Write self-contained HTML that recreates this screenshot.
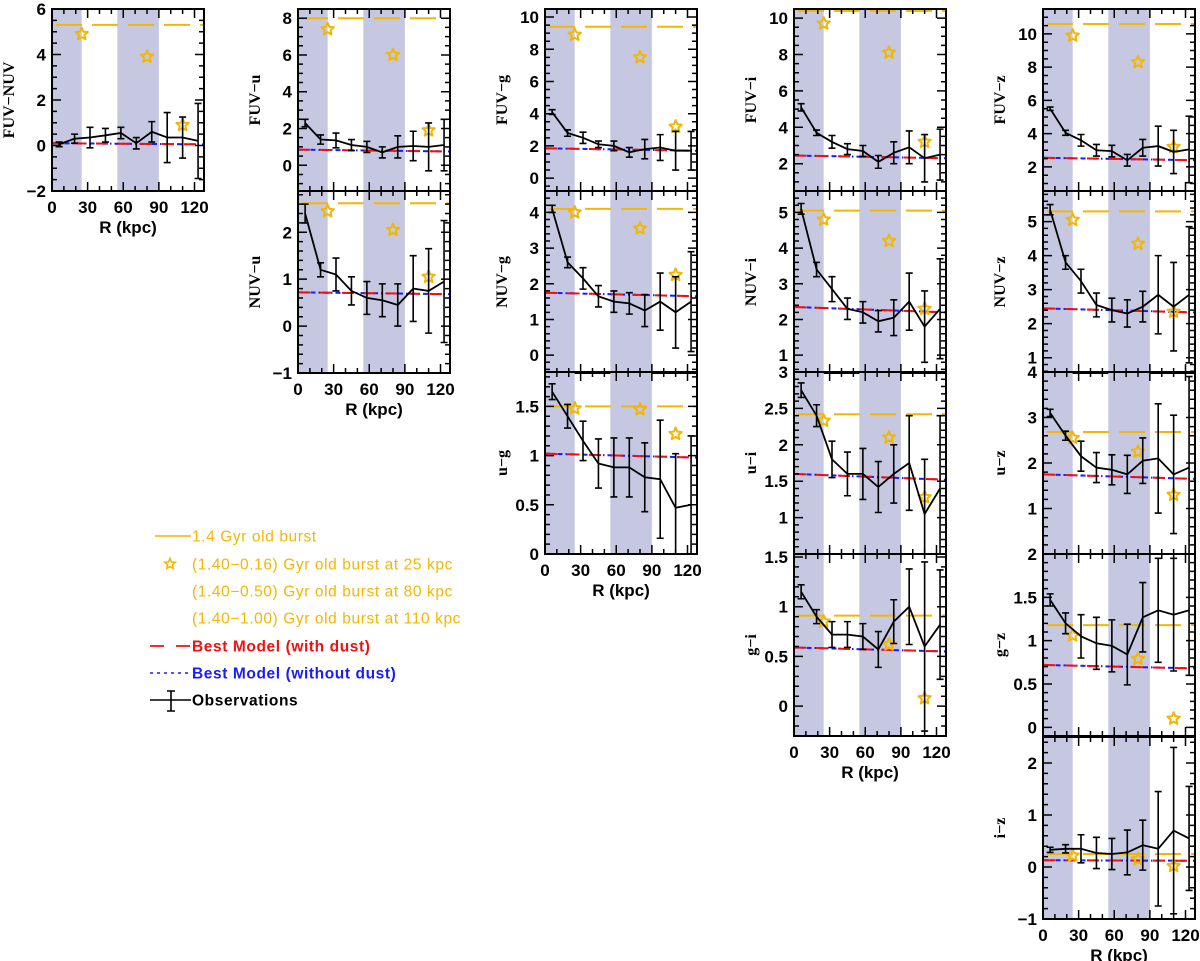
<!DOCTYPE html>
<html><head><meta charset="utf-8">
<style>
html,body{margin:0;padding:0;background:#fff;}
svg{display:block;font-family:"Liberation Sans",sans-serif;}
</style></head>
<body>
<svg id="fig" width="1200" height="961" viewBox="0 0 1200 961" xmlns="http://www.w3.org/2000/svg"></svg>
<script>
// ---- data ----
const radii = [6, 19, 32, 45, 58, 71, 84, 97, 110, 123];
const starRadii = [25, 80, 110];
const bandsStart = [0, 55];
const bandsEnd = [25, 90];

const fuvNuvObs = [0.05, 0.3, 0.35, 0.45, 0.55, 0.1, 0.6, 0.35, 0.35, 0.2];
const fuvNuvErr = [0.1, 0.2, 0.45, 0.3, 0.25, 0.25, 0.45, 1.1, 0.9, 1.65];
const fuvNuvStars = [4.9, 3.9, 0.9];
const fuvNuvBurst = 5.3;
const fuvNuvModel = [0.1, 0.05];

const fuvUObs = [2.3, 1.4, 1.35, 1.1, 1.0, 0.7, 1.0, 1.05, 1.0, 1.1];
const fuvUErr = [0.2, 0.25, 0.4, 0.3, 0.3, 0.3, 0.6, 0.8, 1.3, 1.4];
const fuvUStars = [7.4, 6.0, 1.9];
const fuvUBurst = 8.0;
const fuvUModel = [0.85, 0.75];

const nuvUObs = [2.4, 1.2, 1.1, 0.75, 0.6, 0.55, 0.45, 0.8, 0.75, 0.95];
const nuvUErr = [0.2, 0.15, 0.35, 0.3, 0.35, 0.35, 0.45, 0.7, 0.9, 1.3];
const nuvUStars = [2.45, 2.05, 1.05];
const nuvUBurst = 2.62;
const nuvUModel = [0.72, 0.68];

const fuvGObs = [4.1, 2.8, 2.5, 2.1, 2.0, 1.6, 1.8, 1.9, 1.7, 1.7];
const fuvGErr = [0.15, 0.2, 0.35, 0.2, 0.3, 0.3, 0.6, 0.8, 1.2, 1.2];
const fuvGStars = [8.9, 7.5, 3.2];
const fuvGBurst = 9.4;
const fuvGModel = [1.85, 1.7];

const nuvGObs = [4.1, 2.6, 2.15, 1.65, 1.5, 1.45, 1.25, 1.5, 1.2, 1.5];
const nuvGErr = [0.1, 0.15, 0.3, 0.3, 0.3, 0.3, 0.45, 0.8, 1.0, 1.4];
const nuvGStars = [4.0, 3.55, 2.25];
const nuvGBurst = 4.1;
const nuvGModel = [1.75, 1.65];

const uGObs = [1.65, 1.4, 1.15, 0.92, 0.88, 0.88, 0.78, 0.76, 0.47, 0.5];
const uGErr = [0.08, 0.12, 0.2, 0.25, 0.3, 0.3, 0.35, 0.6, 0.55, 0.7];
const uGStars = [1.48, 1.47, 1.22];
const uGBurst = 1.5;
const uGModel = [1.02, 0.98];

const fuvIObs = [5.1, 3.7, 3.2, 2.8, 2.7, 2.1, 2.6, 2.9, 2.3, 2.5];
const fuvIErr = [0.2, 0.15, 0.35, 0.3, 0.3, 0.35, 0.6, 0.9, 1.3, 1.4];
const fuvIStars = [9.7, 8.1, 3.2];
const fuvIBurst = 10.4;
const fuvIModel = [2.45, 2.3];

const nuvIObs = [5.1, 3.4, 2.85, 2.3, 2.2, 1.95, 2.05, 2.5, 1.8, 2.3];
const nuvIErr = [0.15, 0.2, 0.35, 0.3, 0.3, 0.3, 0.5, 0.8, 1.0, 1.4];
const nuvIStars = [4.8, 4.2, 2.3];
const nuvIBurst = 5.05;
const nuvIModel = [2.35, 2.2];

const uIObs = [2.75, 2.4, 1.8, 1.6, 1.6, 1.42, 1.6, 1.75, 1.05, 1.4];
const uIErr = [0.1, 0.15, 0.25, 0.3, 0.35, 0.35, 0.4, 0.65, 0.75, 1.0];
const uIStars = [2.33, 2.1, 1.28];
const uIBurst = 2.42;
const uIModel = [1.6, 1.52];

const gIObs = [1.15, 0.9, 0.72, 0.72, 0.70, 0.57, 0.85, 1.0, 0.6, 0.82];
const gIErr = [0.07, 0.07, 0.13, 0.13, 0.13, 0.18, 0.22, 0.38, 0.85, 0.55];
const gIStars = [0.85, 0.62, 0.08];
const gIBurst = 0.91;
const gIModel = [0.59, 0.55];

const fuvZObs = [5.5, 4.05, 3.6, 3.0, 2.95, 2.4, 3.15, 3.25, 2.9, 3.05];
const fuvZErr = [0.1, 0.15, 0.35, 0.35, 0.35, 0.35, 0.5, 1.2, 1.3, 2.0];
const fuvZStars = [9.9, 8.3, 3.2];
const fuvZBurst = 10.6;
const fuvZModel = [2.55, 2.4];

const nuvZObs = [5.35, 3.8, 3.25, 2.55, 2.4, 2.3, 2.5, 2.85, 2.5, 2.85];
const nuvZErr = [0.15, 0.2, 0.35, 0.35, 0.35, 0.4, 0.45, 1.15, 1.3, 2.0];
const nuvZStars = [5.05, 4.35, 2.35];
const nuvZBurst = 5.3;
const nuvZModel = [2.45, 2.33];

const uZObs = [3.1, 2.6, 2.15, 1.9, 1.85, 1.75, 2.05, 2.1, 1.75, 1.9];
const uZErr = [0.08, 0.1, 0.33, 0.33, 0.33, 0.42, 0.5, 1.2, 1.3, 2.0];
const uZStars = [2.55, 2.25, 1.3];
const uZBurst = 2.68;
const uZModel = [1.75, 1.65];

const gZObs = [1.47, 1.2, 1.05, 0.97, 0.94, 0.84, 1.27, 1.35, 1.3, 1.35];
const gZErr = [0.07, 0.12, 0.25, 0.3, 0.3, 0.35, 0.4, 0.6, 0.65, 0.75];
const gZStars = [1.06, 0.79, 0.1];
const gZBurst = 1.18;
const gZModel = [0.72, 0.68];

const iZObs = [0.33, 0.35, 0.35, 0.27, 0.25, 0.28, 0.42, 0.35, 0.7, 0.55];
const iZErr = [0.05, 0.08, 0.27, 0.3, 0.3, 0.43, 0.48, 1.1, 1.6, 1.0];
const iZStars = [0.22, 0.15, 0.02];
const iZBurst = 0.25;
const iZModel = [0.13, 0.12];

const xTicks = [0, 30, 60, 90, 120];

// ---- layout ----
const colX = [52, 298, 545, 794, 1043];
const rowY = [9, 191, 372, 554, 737];
const PW = 152, PH = 182;
const XMAX = 128;
const ORANGE = "#f2b705", SHADE = "#c6c8e1";

const panels = [
 {name:"fuv-nuv", label:"FUV\u2212NUV", c:0, r:0, ymin:-2, ymax:6, maj:2, min:0.5, obs:fuvNuvObs, err:fuvNuvErr, stars:fuvNuvStars, burst:fuvNuvBurst, model:fuvNuvModel, bottom:true},
 {name:"fuv-u", label:"FUV\u2212u", c:1, r:0, ymin:-1.4, ymax:8.5, maj:2, min:0.5, obs:fuvUObs, err:fuvUErr, stars:fuvUStars, burst:fuvUBurst, model:fuvUModel},
 {name:"nuv-u", label:"NUV\u2212u", c:1, r:1, ymin:-1, ymax:2.88, maj:1, min:0.2, obs:nuvUObs, err:nuvUErr, stars:nuvUStars, burst:nuvUBurst, model:nuvUModel, bottom:true},
 {name:"fuv-g", label:"FUV\u2212g", c:2, r:0, ymin:-0.8, ymax:10.5, maj:2, min:0.5, obs:fuvGObs, err:fuvGErr, stars:fuvGStars, burst:fuvGBurst, model:fuvGModel},
 {name:"nuv-g", label:"NUV\u2212g", c:2, r:1, ymin:-0.5, ymax:4.6, maj:1, min:0.2, obs:nuvGObs, err:nuvGErr, stars:nuvGStars, burst:nuvGBurst, model:nuvGModel},
 {name:"u-g", label:"u\u2212g", c:2, r:2, ymin:0, ymax:1.85, maj:0.5, min:0.1, obs:uGObs, err:uGErr, stars:uGStars, burst:uGBurst, model:uGModel, bottom:true},
 {name:"fuv-i", label:"FUV\u2212i", c:3, r:0, ymin:0.5, ymax:10.5, maj:2, min:0.5, obs:fuvIObs, err:fuvIErr, stars:fuvIStars, burst:fuvIBurst, model:fuvIModel},
 {name:"nuv-i", label:"NUV\u2212i", c:3, r:1, ymin:0.5, ymax:5.6, maj:1, min:0.2, obs:nuvIObs, err:nuvIErr, stars:nuvIStars, burst:nuvIBurst, model:nuvIModel},
 {name:"u-i", label:"u\u2212i", c:3, r:2, ymin:0.5, ymax:3.0, maj:0.5, min:0.1, obs:uIObs, err:uIErr, stars:uIStars, burst:uIBurst, model:uIModel},
 {name:"g-i", label:"g\u2212i", c:3, r:3, ymin:-0.3, ymax:1.53, maj:0.5, min:0.1, obs:gIObs, err:gIErr, stars:gIStars, burst:gIBurst, model:gIModel, bottom:true},
 {name:"fuv-z", label:"FUV\u2212z", c:4, r:0, ymin:0.55, ymax:11.5, maj:2, min:0.5, obs:fuvZObs, err:fuvZErr, stars:fuvZStars, burst:fuvZBurst, model:fuvZModel},
 {name:"nuv-z", label:"NUV\u2212z", c:4, r:1, ymin:0.55, ymax:5.9, maj:1, min:0.2, obs:nuvZObs, err:nuvZErr, stars:nuvZStars, burst:nuvZBurst, model:nuvZModel},
 {name:"u-z", label:"u\u2212z", c:4, r:2, ymin:0, ymax:4, maj:1, min:0.2, obs:uZObs, err:uZErr, stars:uZStars, burst:uZBurst, model:uZModel},
 {name:"g-z", label:"g\u2212z", c:4, r:3, ymin:-0.1, ymax:2.0, maj:0.5, min:0.1, obs:gZObs, err:gZErr, stars:gZStars, burst:gZBurst, model:gZModel},
 {name:"i-z", label:"i\u2212z", c:4, r:4, ymin:-1, ymax:2.5, maj:1, min:0.2, obs:iZObs, err:iZErr, stars:iZStars, burst:iZBurst, model:iZModel, bottom:true}
];

const NS = "http://www.w3.org/2000/svg";
const svg = document.getElementById("fig");
function mk(tag, attrs, parent){
  const e = document.createElementNS(NS, tag);
  for (const k in attrs) e.setAttribute(k, attrs[k]);
  (parent||svg).appendChild(e);
  return e;
}
function starPath(cx, cy, R){
  const r = R*0.45; let d = "";
  for (let i=0;i<10;i++){
    const a = -Math.PI/2 + i*Math.PI/5; const rr = i%2?r:R;
    d += (i?"L":"M") + (cx+rr*Math.cos(a)).toFixed(1) + " " + (cy+rr*Math.sin(a)).toFixed(1);
  }
  return d+"Z";
}
function fmt(v){ return (Math.round(v*10)/10).toString().replace("-", "\u2212"); }

panels.forEach(p => {
  const L = colX[p.c], T = rowY[p.r], R = L+PW, B = T+PH;
  const sx = v => L + v/XMAX*PW;
  const sy = v => B - (v-p.ymin)/(p.ymax-p.ymin)*PH;
  const g = mk("g", {});
  
  
  const cid = "clip-" + p.name;
  const cp = mk("clipPath", {id:cid}, g);
  mk("rect", {x:L, y:T, width:PW, height:PH}, cp);
  const inner = mk("g", {"clip-path":"url(#"+cid+")"}, g);
  bandsStart.forEach((b,i) => {
    const band = mk("rect", {x:sx(b), y:T, width:sx(bandsEnd[i])-sx(b), height:PH, fill:SHADE}, inner);
    
    
  });
  // burst line
  const bl = mk("line", {x1:L, x2:R, y1:sy(p.burst), y2:sy(p.burst), stroke:ORANGE, "stroke-width":2, "stroke-dasharray":"26 10", "stroke-dashoffset":"-4"}, inner);
  
  
  // models
  const m1 = mk("line", {x1:L, x2:R, y1:sy(p.model[0]), y2:sy(p.model[1]), stroke:"#1a1aff", "stroke-width":2, "stroke-dasharray":"5 3 1.5 3"}, inner);
  
  
  const m2 = mk("line", {x1:L, x2:R, y1:sy(p.model[0]), y2:sy(p.model[1]), stroke:"#ee1111", "stroke-width":2, "stroke-dasharray":"12 10"}, inner);
  
  
  // stars
  p.stars.forEach((v,i) => {
    const s = mk("path", {d:starPath(sx(starRadii[i]), sy(v), 6.5), fill:"none", stroke:ORANGE, "stroke-width":2, "stroke-linejoin":"round"}, inner);
    
    
  });
  // observations
  const pts = p.obs.map((v,i) => sx(radii[i]).toFixed(1)+","+sy(v).toFixed(1)).join(" ");
  const ol = mk("polyline", {points:pts, fill:"none", stroke:"#000", "stroke-width":1.8}, inner);
  
  
  p.obs.forEach((v,i) => {
    const x = sx(radii[i]), y1 = sy(v-p.err[i]), y2 = sy(v+p.err[i]);
    const eb = mk("path", {d:`M${x} ${y1}V${y2}M${x-3.5} ${y1}H${x+3.5}M${x-3.5} ${y2}H${x+3.5}`, stroke:"#000", "stroke-width":1.6, fill:"none"}, inner);
    
    
  });
  // ticks
  let td = "";
  for (let v=0; v<=XMAX; v+=10){
    const x = sx(v), len = v%30===0 ? 9 : 5;
    td += `M${x} ${B}v${-len}M${x} ${T}v${len}`;
  }
  const y0 = Math.ceil(p.ymin/p.min-1e-6)*p.min;
  for (let v=y0; v<=p.ymax+1e-9; v+=p.min){
    const y = sy(v);
    const isMaj = Math.abs(v/p.maj - Math.round(v/p.maj)) < 1e-6;
    const len = isMaj ? 9 : 5;
    td += `M${L} ${y}h${len}M${R} ${y}h${-len}`;
  }
  mk("path", {d:td, stroke:"#000", "stroke-width":1.5, fill:"none"}, g);
  const frame = mk("rect", {x:L, y:T, width:PW, height:PH, fill:"none", stroke:"#000", "stroke-width":2}, g);
  
  
  // y tick labels
  const ym0 = Math.ceil(p.ymin/p.maj-1e-6)*p.maj;
  for (let v=ym0; v<=p.ymax+1e-9; v+=p.maj){
    const y = sy(v);
    if (!p.bottom && B - y < 4) continue;
    const t = mk("text", {x:L-6, y:y+6, "text-anchor":"end", "font-size":17, "font-weight":"bold", fill:"#000"}, g);
    t.textContent = fmt(v);
    
    
  }
  // y-axis title
  const yt = mk("text", {x:0, y:0, transform:`translate(${L-38},${(T+B)/2}) rotate(-90)`, "text-anchor":"middle", "font-size":16, "font-weight":"bold", "font-family":"Liberation Serif, serif", fill:"#000"}, g);
  yt.textContent = p.label;
  
  
  if (p.bottom){
    xTicks.forEach(v => {
      const t = mk("text", {x:sx(v), y:B+22, "text-anchor":"middle", "font-size":17, "font-weight":"bold", fill:"#000"}, g);
      t.textContent = v;
      
      
    });
    const xt = mk("text", {x:L+PW/2, y:B+42, "text-anchor":"middle", "font-size":17, "font-weight":"bold", fill:"#000"}, g);
    xt.textContent = "R (kpc)";
    
    
  }
});

// ---- legend ----
const lg = mk("g", {});


function ltext(y, txt, color, bold){
  const t = mk("text", {x:192, y:y+5.5, "font-size":15.5, fill:color, "font-weight":bold?"bold":"normal", "letter-spacing":"0.6"}, lg);
  t.textContent = txt;
  
  
}
mk("line", {x1:155, x2:191, y1:536, y2:536, stroke:ORANGE, "stroke-width":1.6}, lg);
ltext(536, "1.4 Gyr old burst", ORANGE);
mk("path", {d:starPath(170, 564, 5.5), fill:"none", stroke:ORANGE, "stroke-width":1.6}, lg);
ltext(564, "(1.40\u22120.16) Gyr old burst at 25 kpc", ORANGE);
ltext(591, "(1.40\u22120.50) Gyr old burst at 80 kpc", ORANGE);
ltext(618, "(1.40\u22121.00) Gyr old burst at 110 kpc", ORANGE);
mk("line", {x1:150, x2:191, y1:646, y2:646, stroke:"#ee1111", "stroke-width":1.8, "stroke-dasharray":"14 12"}, lg);
ltext(646, "Best Model (with dust)", "#ee1111", true);
mk("line", {x1:150, x2:191, y1:673, y2:673, stroke:"#1a1aff", "stroke-width":1.6, "stroke-dasharray":"3 4"}, lg);
ltext(673, "Best Model (without dust)", "#1a1aff", true);
mk("path", {d:"M150 700H191M171 691V711M167 691H175M167 711H175", stroke:"#000", "stroke-width":1.6, fill:"none"}, lg);
ltext(700, "Observations", "#000", true);
</script>
</body></html>
